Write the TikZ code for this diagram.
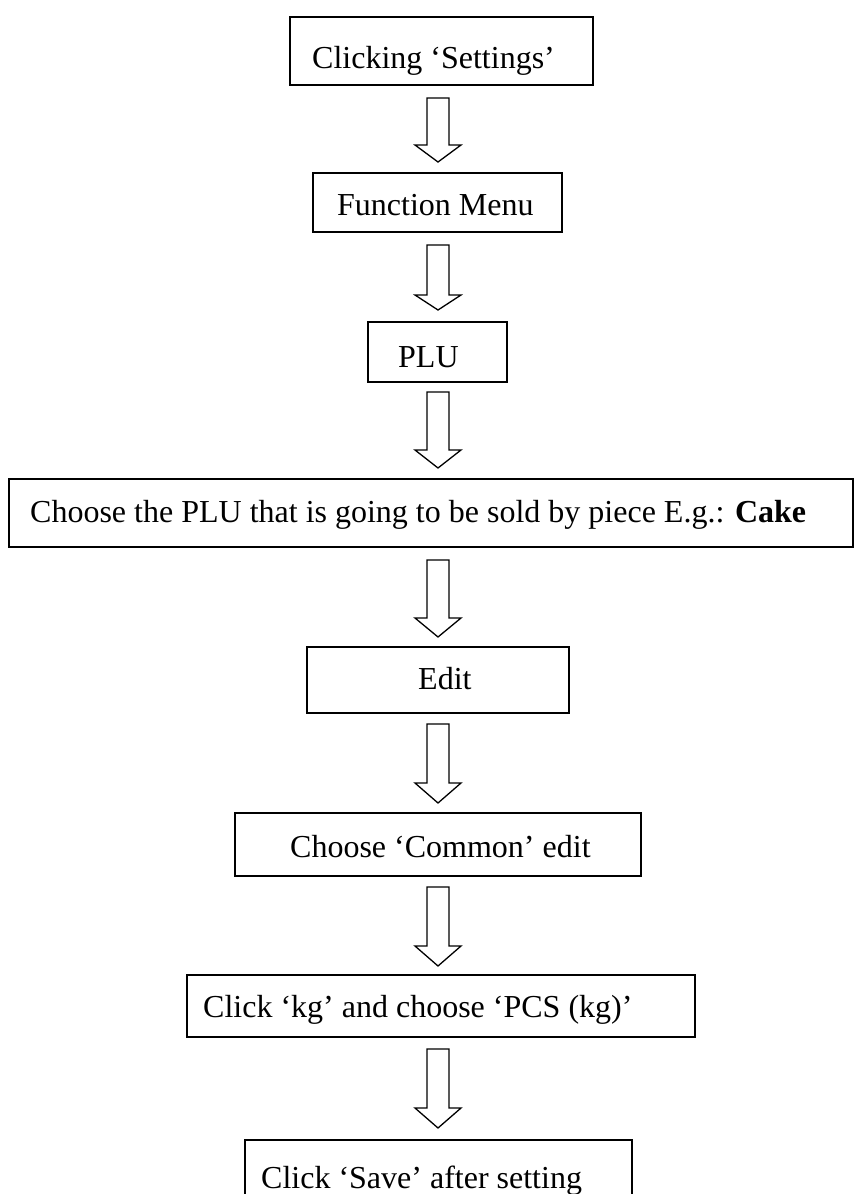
\documentclass[tikz,border=0pt]{standalone}
\usepackage{fontspec}
\setmainfont{Liberation Serif}
\begin{document}
\begin{tikzpicture}[x=1pt,y=-1pt,
  flowbox/.style={draw=black,line width=1.8pt,rectangle,inner sep=0pt},
  label/.style={anchor=base west,inner sep=0pt,font=\fontsize{32}{38}\selectfont},
  blockarrow/.style={draw=black,line width=1.3pt,fill=white,line join=miter}]
\clip (0,0) rectangle (855,1194);
\fill[white] (0,0) rectangle (855,1194);
% boxes
\node[flowbox,minimum width=303pt,minimum height=68pt] (b1) at (441.5,51) {};
\node[flowbox,minimum width=249pt,minimum height=59pt] (b2) at (437.5,202.5) {};
\node[flowbox,minimum width=139pt,minimum height=60pt] (b3) at (437.5,352) {};
\node[flowbox,minimum width=844pt,minimum height=68pt] (b4) at (431,513) {};
\node[flowbox,minimum width=262pt,minimum height=66pt] (b5) at (438,680) {};
\node[flowbox,minimum width=406pt,minimum height=63pt] (b6) at (438,844.5) {};
\node[flowbox,minimum width=508pt,minimum height=62pt] (b7) at (441,1006) {};
\node[flowbox,minimum width=387pt,minimum height=70pt] (b8) at (438.5,1175) {};
% texts
\node[label] (t1) at (312,68) {Clicking ‘Settings’};
\node[label] (t2) at (337,215) {Function Menu};
\node[label] (t3) at (398,367) {PLU};
\node[label] (t4) at (30,522) {Choose the PLU that is going to be sold by piece E.g.: \textbf{Cake}};
\node[label] (t5) at (418,689) {Edit};
\node[label] (t6) at (290,857) {Choose ‘Common’ edit};
\node[label] (t7) at (203,1017) {Click ‘kg’ and choose ‘PCS (kg)’};
\node[label] (t8) at (261,1188) {Click ‘Save’ after setting};
% block arrows
\newcommand{\dnarrow}[4]{%
  \draw[blockarrow] (#1-11,#2) -- (#1+11,#2) -- (#1+11,#3) -- (#1+23,#3) -- (#1,#4) -- (#1-23,#3) -- (#1-11,#3) -- cycle;}
\dnarrow{438}{98}{145}{162}
\dnarrow{438}{245}{295}{310}
\dnarrow{438}{392}{450}{468}
\dnarrow{438}{560}{618}{637}
\dnarrow{438}{724}{783}{803}
\dnarrow{438}{887}{946}{966}
\dnarrow{438}{1049}{1108}{1128}
\end{tikzpicture}
\end{document}
